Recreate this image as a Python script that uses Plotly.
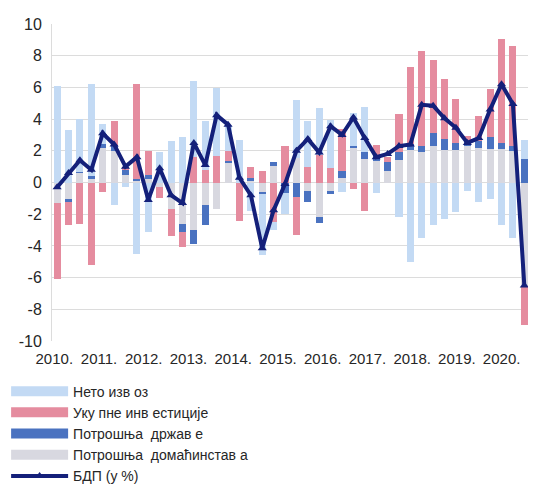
import plotly.graph_objects as go
import numpy as np

years = list(range(2010, 2021))
quarters = [f"{y}Q{q}" for y in range(2010, 2021) for q in range(1, 5)][:42]

# Contributions to GDP growth (percentage points)
households = [-1.3, -1.1, 0.6, 0.2, 2.2, 2.0, 0.5, 0.1, 0.2, -0.3,
              -1.7, -2.6, -3.0, -1.4, -1.7, 1.25, 0.0, 0.1, -0.65, 1.05,
              0.0, 1.55, -0.55, -2.15, -0.55, 0.3, 2.2, 1.5, 1.35, 0.7,
              1.45, 2.05, 1.95, 2.3, 2.05, 2.05, 2.3, 2.2, 2.1, 2.1,
              2.0, -6.55]
government = [0.0, -0.1, 0.05, 0.2, 0.2, 0.3, 0.3, 0.1, 0.3, 0.0,
              0.0, -0.55, -0.85, -1.3, 0.0, 0.1, 0.0, 0.2, -0.1, 0.25,
              -0.65, -0.9, -0.65, -0.4, -0.15, 0.4, 0.1, 0.4, 0.3, 0.6,
              0.5, 0.35, 0.35, 0.8, 0.7, 0.45, 0.35, 0.45, 0.75, 0.4,
              0.3, 1.5]
investment = [-4.8, -1.5, -2.6, -5.2, -0.6, 1.6, 0.2, 6.0, 1.5, -0.7,
              -1.7, -0.95, 1.6, 0.8, 1.65, 0.65, -2.4, 0.65, 0.75, -2.5,
              2.3, -2.4, 1.0, 1.75, 0.9, 2.7, -0.4, -1.8, 0.7, 0.3,
              2.35, 4.9, 6.0, 4.65, 3.75, 2.8, 0.3, 1.55, 3.05, 6.55,
              6.3, -2.45]
net_exports = [6.1, 3.3, 3.35, 5.8, 1.3, -1.4, -0.3, -4.5, -3.1, 1.9,
               2.6, 2.85, 4.8, 3.05, 4.3, 1.6, 2.7, -1.8, -3.8, -0.5,
               -1.35, 3.65, 2.85, 2.95, 3.05, -0.6, 2.1, 2.85, -0.65, 0.0,
               -2.15, -5.0, -3.5, -2.7, -2.3, -1.85, -0.55, -1.25, -1.05, -2.65,
               -3.5, 1.2]
gdp = [-0.3, 0.6, 1.4, 0.8, 3.1, 2.4, 1.0, 1.6, -1.1, 0.9,
       -0.8, -1.3, 2.5, 1.1, 4.25, 3.65, 0.3, -0.8, -4.15, -1.75,
       -0.1, 2.0, 2.75, 1.9, 3.55, 3.0, 4.1, 2.8, 1.6, 1.8,
       2.3, 2.4, 4.9, 4.85, 4.05, 3.45, 2.5, 2.8, 4.6, 6.2,
       4.95, -6.5]

year_labels = [f"{y}." for y in years]
y_ticks = list(range(-10, 11, 2))
y_labels = [str(v) for v in y_ticks]

names = {
    "nx": "Нето изв оз",
    "inv": "Уку пне инв естиције",
    "gov": "Потрошња  држав е",
    "hh": "Потрошња  домаћинстав а",
    "gdp": "БДП (у %)",
}
colors = {
    "nx": "#C3DAF4",
    "inv": "#E58C9F",
    "gov": "#4A72C0",
    "hh": "#D8D8E0",
    "gdp": "#14207A",
}

x = np.arange(len(quarters))

fig = go.Figure()
# stacking order: households closest to zero, then government, investment, net exports
for key, vals in [("hh", households), ("gov", government), ("inv", investment), ("nx", net_exports)]:
    fig.add_trace(go.Bar(x=x, y=vals, name=names[key], marker_color=colors[key],
                         marker_line_width=0, width=0.62, showlegend=False,
                         hovertext=quarters))

# legend entries (wide swatches)
for rank, key in enumerate(["nx", "inv", "gov", "hh"]):
    fig.add_trace(go.Scatter(x=[None], y=[None], mode="lines", name=names[key],
                             line=dict(color=colors[key], width=10), legendrank=rank + 1))

fig.add_trace(go.Scatter(x=x, y=gdp, mode="lines+markers", name=names["gdp"],
                         line=dict(color=colors["gdp"], width=4),
                         marker=dict(symbol="triangle-up", size=8, color=colors["gdp"]),
                         legendrank=5))

tickvals = [-0.25 + 3.926 * k for k in range(len(years))]

# the page body adds an 8px offset, so the figure is sized/margined to compensate
fig.update_layout(
    width=528, height=491,
    margin=dict(l=44, r=6, t=16, b=158, autoexpand=False),
    barmode="relative",
    bargap=0,
    plot_bgcolor="white",
    paper_bgcolor="white",
    font=dict(family="Liberation Sans, Arial, sans-serif", size=15, color="#262626"),
    showlegend=True,
    legend=dict(x=-0.096, y=-0.109, xanchor="left", yanchor="top",
                orientation="v", font=dict(size=14, color="#262626"),
                itemwidth=57, tracegroupgap=0, bgcolor="rgba(0,0,0,0)",
                traceorder="normal"),
    xaxis=dict(range=[-0.45, 41.5], tickvals=tickvals, ticktext=year_labels,
               showgrid=False, zeroline=False, showline=False, automargin=False,
               tickfont=dict(size=15), ticks="", ticklen=0, ticklabelstandoff=7),
    yaxis=dict(range=[-10, 10], tickvals=y_ticks, ticktext=y_labels,
               showgrid=True, gridcolor="#DCDCDC", gridwidth=1, automargin=False,
               zeroline=False, showline=True, linecolor="#DCDCDC",
               tickfont=dict(size=16), ticks="", ticklabelstandoff=6),
)

fig.write_html("out.html")
